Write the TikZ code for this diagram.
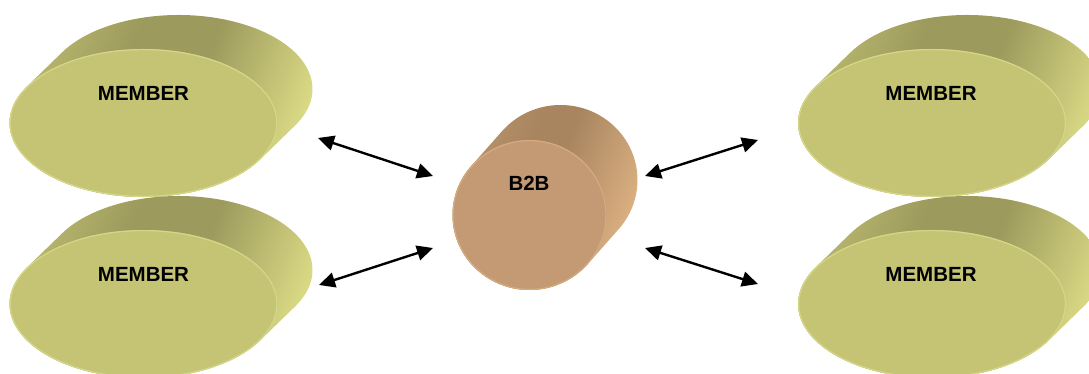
\documentclass[tikz,border=0pt]{standalone}
\usepackage{fontspec}
\setmainfont{Liberation Sans}
\usetikzlibrary{arrows.meta}

% olive member disks
\definecolor{memfront}{HTML}{C4C474}
\definecolor{memrim}{HTML}{D6D688}
\definecolor{memedge}{HTML}{BEBD72}
\definecolor{memdark}{HTML}{9C9A5C}
\definecolor{memlight}{HTML}{E2E28A}
% tan hub cylinder
\definecolor{bbfront}{HTML}{C49A74}
\definecolor{bbrim}{HTML}{D4AA80}
\definecolor{bbedge}{HTML}{BC966E}
\definecolor{bbdark}{HTML}{A8855F}
\definecolor{bblight}{HTML}{E4B888}

\pgfdeclarehorizontalshading{memside}{100bp}{color(0bp)=(memedge); color(25bp)=(memedge);
  color(42bp)=(memdark); color(54bp)=(memdark); color(75bp)=(memlight); color(100bp)=(memlight)}
\pgfdeclarehorizontalshading{bbside}{100bp}{color(0bp)=(bbedge); color(25bp)=(bbedge);
  color(42bp)=(bbdark); color(50bp)=(bbdark); color(75bp)=(bblight); color(100bp)=(bblight)}

% extruded elliptic disk: centre x, centre y, x radius, y radius, depth dx, depth dy,
% silhouette angle, colour prefix
\newcommand{\extdisk}[8]{%
  \path[shading=#8side, shading angle=-22]
    (#1,#2) ++(#7:#3 and #4) -- ++(#5,#6)
    arc[start angle=#7, delta angle=-180, x radius=#3, y radius=#4]
    -- ++(-#5,-#6)
    arc[start angle=#7-180, delta angle=-180, x radius=#3, y radius=#4] -- cycle;
  \fill[#8front] (#1,#2) ellipse[x radius=#3, y radius=#4];
  \draw[#8rim, line width=1.2pt] (#1,#2) ellipse[x radius=#3-0.6, y radius=#4-0.6];
}
\newcommand{\memberdisk}[2]{\extdisk{#1}{#2}{134}{74}{35}{34}{150.4}{mem}}

\begin{document}
\begin{tikzpicture}[x=1pt, y=1pt,
  label/.style={font=\fontsize{20.5}{24}\selectfont\bfseries, text=black, inner sep=0pt},
  biarrow/.style={line width=2.4pt, {Triangle[length=16pt,width=15pt]}-{Triangle[length=16pt,width=15pt]}}]
  \useasboundingbox (0,0) rectangle (1089,-374);
  \clip (0,0) rectangle (1089,-374);

  % member disks
  \memberdisk{143.5}{-123}
  \memberdisk{143.5}{-304}
  \memberdisk{932}{-123}
  \memberdisk{932}{-304}
  % hub cylinder
  \extdisk{529.5}{-215}{77}{75}{31}{35}{139.2}{bb}

  \node[label] (m1) at (143.5,-93) {MEMBER};
  \node[label] (m2) at (143.5,-274) {MEMBER};
  \node[label] (m3) at (931,-93) {MEMBER};
  \node[label] (m4) at (931,-274) {MEMBER};
  \node[label] (hub) at (529,-183) {B2B};

  % links between the members and the hub
  \coordinate (l1a) at (318,-138);  \coordinate (l1b) at (433,-176);
  \coordinate (l2a) at (319,-285);  \coordinate (l2b) at (433,-248);
  \coordinate (r1a) at (645,-176);  \coordinate (r1b) at (758,-140);
  \coordinate (r2a) at (645,-248);  \coordinate (r2b) at (758,-284);
  \draw[biarrow] (l1a) -- (l1b);
  \draw[biarrow] (l2a) -- (l2b);
  \draw[biarrow] (r1a) -- (r1b);
  \draw[biarrow] (r2a) -- (r2b);
\end{tikzpicture}
\end{document}
